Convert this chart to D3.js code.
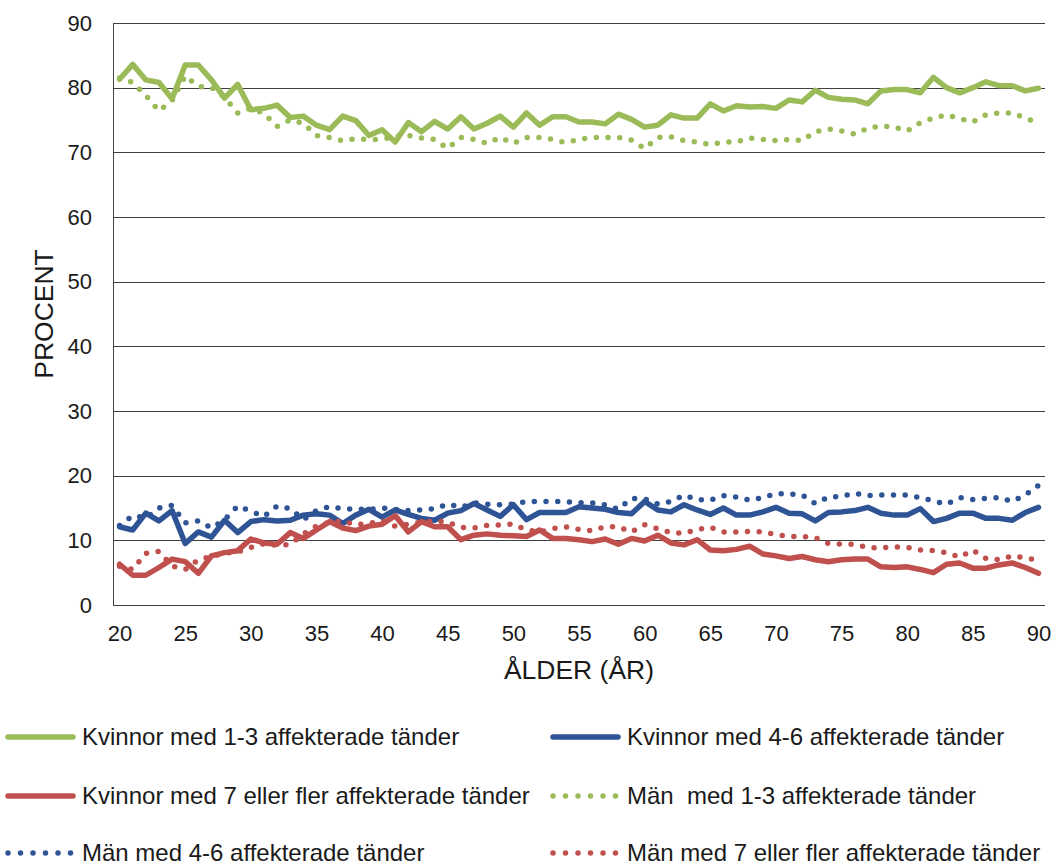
<!DOCTYPE html>
<html><head><meta charset="utf-8">
<script src="https://cdn.jsdelivr.net/npm/d3@7"></script>
<style>
html,body{margin:0;padding:0;background:#fff;}
svg{display:block;font-family:"Liberation Sans",Arial,sans-serif;}
</style></head>
<body><svg id="chart" width="1053" height="865"></svg>
<script>
const ages = d3.range(20, 91);
const xTickLabels = [20,25,30,35,40,45,50,55,60,65,70,75,80,85,90];
const yTickLabels = [0,10,20,30,40,50,60,70,80,90];

const kvinnor13 = [81.3,83.6,81.2,80.8,78.3,83.5,83.5,81.2,78.4,80.5,76.6,76.8,77.3,75.4,75.6,74.2,73.5,75.6,74.9,72.6,73.5,71.6,74.6,73.2,74.8,73.6,75.5,73.6,74.5,75.6,73.9,76.1,74.2,75.5,75.5,74.7,74.7,74.4,75.9,75.1,73.9,74.2,75.8,75.3,75.3,77.5,76.4,77.2,77.0,77.1,76.8,78.1,77.8,79.6,78.5,78.2,78.1,77.5,79.5,79.7,79.7,79.2,81.6,80.0,79.2,80.0,80.9,80.3,80.3,79.5,79.9];
const kvinnor46 = [12.1,11.6,14.2,13.0,14.6,9.5,11.3,10.5,13.1,11.2,12.9,13.2,13.0,13.1,13.9,14.1,13.9,12.6,13.9,14.8,13.6,14.7,14.0,13.4,13.1,14.2,14.6,15.7,14.7,13.7,15.5,13.2,14.3,14.3,14.3,15.2,15.0,14.8,14.3,14.1,16.0,14.7,14.4,15.5,14.7,14.0,15.0,13.9,13.9,14.4,15.1,14.2,14.1,13.0,14.3,14.4,14.6,15.1,14.2,13.9,13.9,14.9,12.9,13.4,14.2,14.2,13.4,13.4,13.1,14.3,15.1];
const kvinnor7 = [6.3,4.6,4.6,5.8,7.1,6.7,4.9,7.6,8.1,8.4,10.2,9.6,9.4,11.2,10.3,11.6,12.9,11.9,11.5,12.2,12.5,13.8,11.3,12.9,12.1,12.1,10.1,10.8,11.0,10.8,10.7,10.6,11.6,10.3,10.3,10.1,9.8,10.2,9.4,10.3,9.9,10.8,9.6,9.3,10.1,8.5,8.4,8.6,9.1,7.9,7.6,7.2,7.5,7.0,6.7,7.0,7.1,7.1,5.9,5.8,5.9,5.5,5.0,6.3,6.5,5.7,5.7,6.2,6.5,5.8,4.9];
const man13 = [81.5,80.8,78.8,76.4,78.0,81.8,80.2,80.0,78.5,76.1,76.8,76.0,74.0,75.0,74.5,72.6,72.3,71.8,72.1,72.0,72.0,72.5,72.6,72.2,72.0,70.6,72.3,72.0,71.4,72.3,71.4,72.3,72.3,72.0,71.5,72.0,72.3,72.3,72.3,71.9,70.6,72.3,72.4,71.8,71.6,71.2,71.6,71.6,72.2,72.0,71.8,72.0,71.8,73.2,73.6,73.3,72.8,73.7,74.1,73.9,73.3,74.6,75.3,75.8,75.2,74.7,75.8,76.1,76.1,75.3,74.5];
const man46 = [12.3,13.8,13.5,15.0,15.4,12.7,13.0,11.9,13.2,15.3,14.5,13.7,15.3,14.9,13.2,14.6,15.2,14.9,14.8,14.8,15.0,14.8,14.6,14.7,14.9,15.6,15.1,15.8,15.6,15.5,15.6,16.0,16.0,16.0,16.0,15.8,15.8,15.5,14.8,16.5,16.4,15.6,16.0,17.0,16.3,16.2,16.9,16.7,16.2,16.6,17.2,17.2,17.0,15.7,16.7,16.8,17.3,16.9,17.0,17.0,17.0,16.6,16.1,15.6,16.6,16.3,16.5,16.6,16.0,17.0,18.5];
const man7 = [6.0,5.5,8.0,8.3,6.0,5.5,7.0,7.5,8.0,8.2,8.9,9.5,9.2,9.4,11.0,12.2,12.8,13.0,12.4,12.6,13.0,12.2,12.5,12.8,13.0,12.8,12.0,11.9,12.3,12.4,12.5,11.6,11.3,11.8,12.1,11.7,11.5,12.1,12.1,11.3,12.4,11.8,11.2,11.1,11.7,12.0,11.3,11.3,11.4,11.3,10.9,10.6,10.6,10.4,9.5,9.4,9.4,8.9,8.8,9.0,8.9,8.5,8.4,8.1,7.4,8.5,7.2,7.0,7.6,7.3,6.9];

const seriesNames = ["Kvinnor med 1-3 affekterade tänder","Kvinnor med 4-6 affekterade tänder","Kvinnor med 7 eller fler affekterade tänder","Män  med 1-3 affekterade tänder","Män med 4-6 affekterade tänder","Män med 7 eller fler affekterade tänder"];
const seriesValues = [kvinnor13, kvinnor46, kvinnor7, man13, man46, man7];
const seriesColors = ["#9BBB59","#2F5496","#C0504D","#9BBB59","#2F5496","#C0504D"];
const seriesDotted = [false,false,false,true,true,true];

const svg = d3.select("#chart");
const L = 113, R = 1045, T = 23, B = 605;
const x = d3.scalePoint().domain(ages).range([L, R]).padding(0.5);
const y = d3.scaleLinear().domain([0, 90]).range([B, T]);
const textColor = "#1a1a1a";

// gridlines
svg.append("g").selectAll("line").data(yTickLabels.filter(d => d > 0)).join("line")
  .attr("x1", L).attr("x2", R)
  .attr("y1", d => Math.round(y(d)) + 0.5).attr("y2", d => Math.round(y(d)) + 0.5)
  .attr("stroke", "#404040").attr("stroke-width", 1);

// y axis
const yAxis = svg.append("g").attr("transform", `translate(${L},0)`)
  .call(d3.axisLeft(y).tickValues(yTickLabels).tickSize(0).tickPadding(21));
yAxis.select(".domain").attr("stroke", "#404040");
yAxis.selectAll("text").attr("font-size", 22).attr("fill", textColor)
  .attr("font-family", "Liberation Sans, Arial, sans-serif");

// x axis
const xAxis = svg.append("g").attr("transform", `translate(0,${B})`)
  .call(d3.axisBottom(x).tickValues(xTickLabels).tickSize(0).tickPadding(20));
xAxis.select(".domain").attr("stroke", "#404040").attr("d", `M${L},0.5H${R}`);
xAxis.selectAll("text").attr("font-size", 22).attr("fill", textColor)
  .attr("font-family", "Liberation Sans, Arial, sans-serif");

// axis titles
svg.append("text").attr("transform", `translate(53,${(T + B) / 2}) rotate(-90)`)
  .attr("text-anchor", "middle").attr("font-size", 26.5).attr("fill", textColor).text("PROCENT");
svg.append("text").attr("x", (L + R) / 2).attr("y", 679)
  .attr("text-anchor", "middle").attr("font-size", 26.5).attr("fill", textColor).text("ÅLDER (ÅR)");

// lines
const line = d3.line().x((d, i) => x(ages[i])).y(d => y(d)).curve(d3.curveLinear);
seriesValues.forEach((vals, i) => {
  const p = svg.append("path").datum(vals).attr("d", line)
    .attr("fill", "none").attr("stroke", seriesColors[i])
    .attr("stroke-linejoin", "round").attr("stroke-linecap", "round");
  if (seriesDotted[i]) p.attr("stroke-width", 5.5).attr("stroke-dasharray", "0 11.7");
  else p.attr("stroke-width", 5.5);
});

// legend
const legendPos = [[5, 737], [550, 737], [5, 796], [550, 796], [5, 853], [550, 853]];
seriesNames.forEach((name, i) => {
  const [lx, ly] = legendPos[i];
  const g = svg.append("g");
  const ln = g.append("line").attr("x1", lx + 3).attr("x2", lx + 68).attr("y1", ly).attr("y2", ly)
    .attr("stroke", seriesColors[i]).attr("stroke-linecap", "round").attr("stroke-width", 5.5);
  if (seriesDotted[i]) ln.attr("stroke-dasharray", "0 12.5");
  g.append("text").attr("x", lx + 77).attr("y", ly + 8).attr("font-size", 24)
    .style("white-space", "pre")
    .attr("fill", textColor).text(name);
});
</script></body></html>
